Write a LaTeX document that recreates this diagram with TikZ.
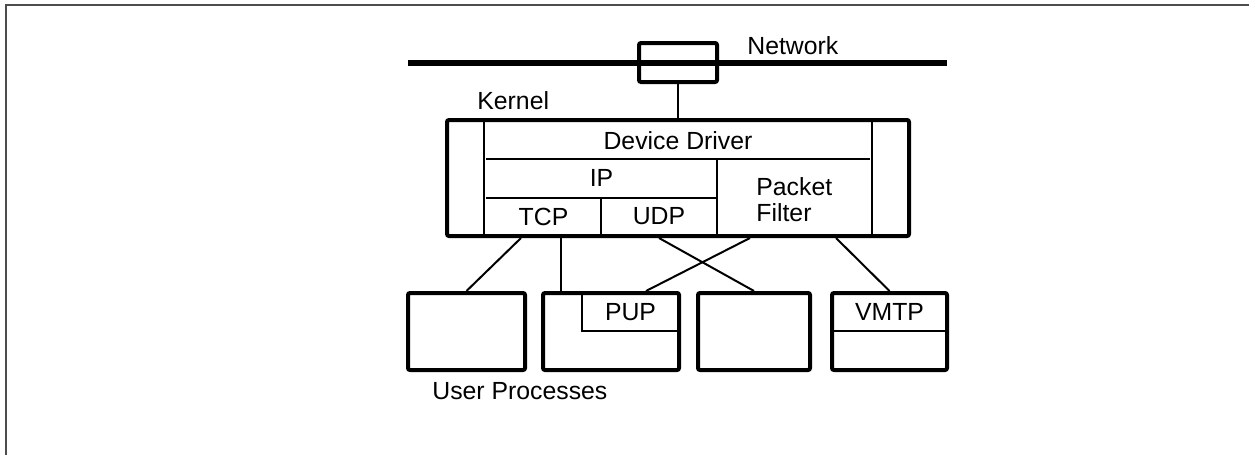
\documentclass[tikz,border=0pt]{standalone}
\usepackage{fontspec}
\setmainfont{Liberation Sans}
\usetikzlibrary{calc}
\tikzset{
	lbl/.style={inner sep=0pt, font=\fontsize{12.4}{13}\selectfont},
	bigbox/.style={draw=black, line width=2pt, rounded corners=1pt, inner sep=0pt},
	cell/.style={draw=black, line width=1pt},
	conn/.style={draw=black, line width=1pt},
	netline/.style={draw=black, line width=2.75pt},
	frameline/.style={draw=black!70, line width=1pt}
}

\begin{document}
\begin{tikzpicture}[x=0.5pt, y=-0.5pt]
		\useasboundingbox (0,0) rectangle (1249,455);
		\draw[frameline] (6,455) -- (6,5) -- (1249,5);
		
		\draw[netline] (408,63) -- (947,63);
		\node[bigbox, fill=none, minimum width=39pt, minimum height=19.5pt] (tap) at (678,62.5) {};
		\node[lbl, anchor=west] (netlbl) at (747,45.5) {Network};
		
		\node[bigbox, minimum width=231pt, minimum height=58pt] (kernel) at (678,178) {};
		\node[lbl, anchor=west] (kernlbl) at (477,101) {Kernel};
		\draw[conn] (tap.south) -- (kernel.north);
		
		\draw[cell] ($(kernel.north west)+(39,0)$) -- ($(kernel.south west)+(39,0)$);
		\draw[cell] ($(kernel.north east)+(-39,0)$) -- ($(kernel.south east)+(-39,0)$);
		\draw[cell] (486,159) -- (870,159);
		\draw[cell] (486,198) -- (717,198);
		\draw[cell] (717,159) -- (717,236);
		\draw[cell] (601,198) -- (601,236);
		\node[lbl] (dd) at (678,140.5) {Device Driver};
		\node[lbl] (ip) at (601.5,178) {IP};
		\node[lbl] (tcp) at (543.5,216.5) {TCP};
		\node[lbl] (udp) at (659,216.5) {UDP};
		\node[lbl, anchor=west, align=left] (pf) at (756,200) {Packet\\Filter};
		
		\node[bigbox, minimum width=58.5pt, minimum height=38.5pt] (b1) at (466.5,331.5) {};
		\node[bigbox, minimum width=68pt, minimum height=38.5pt] (b2) at (611,331.5) {};
		\node[bigbox, minimum width=56pt, minimum height=38.5pt] (b3) at (754,331.5) {};
		\node[bigbox, minimum width=57.5pt, minimum height=38.5pt] (b4) at (889.5,331.5) {};
		\draw[cell] (582,293) -- (582,331) -- (679,331);
		\node[lbl] (pup) at (630.5,312) {PUP};
		\draw[cell] (832,331) -- (947,331);
		\node[lbl] (vmtp) at (889.5,312) {VMTP};
		\node[lbl, anchor=west] (userlbl) at (432,391) {User Processes};
		
		\draw[conn] ($(kernel.south west)+(76,0)$) -- (b1.north);
		\draw[conn] ($(b2.north west)+(20,0)$) coordinate (c2) -- (c2 |- kernel.south);
		\draw[conn] ($(kernel.south west)+(214,0)$) -- (b3.north);
		\draw[conn] ($(kernel.south west)+(305,0)$) -- ($(b2.north east)+(-35,0)$);
		\draw[conn] ($(kernel.south east)+(-75,0)$) -- (b4.north);
\end{tikzpicture}
\end{document}
